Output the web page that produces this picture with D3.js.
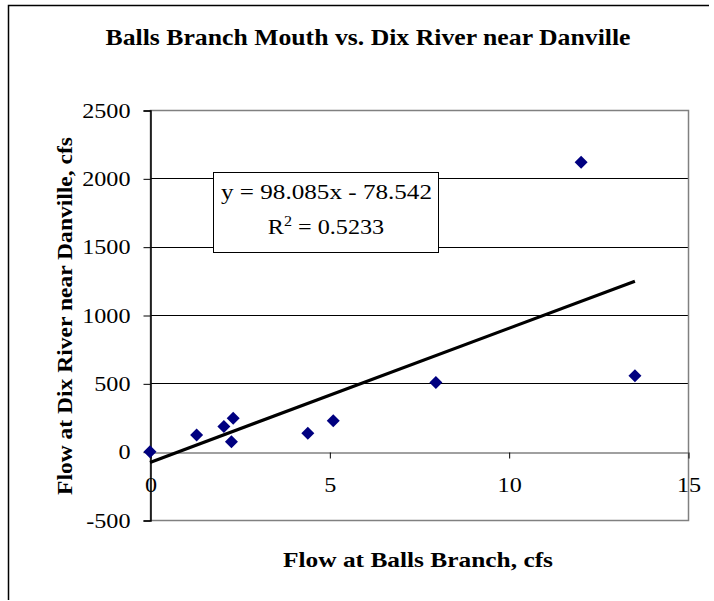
<!DOCTYPE html>
<html>
<head>
<meta charset="utf-8">
<script src="https://cdn.jsdelivr.net/npm/d3@7/dist/d3.min.js"></script>
<style>
  html, body { margin: 0; padding: 0; background: #fff; }
  svg { display: block; }
  text { font-family: "Liberation Serif", "Times New Roman", serif; fill: #000; }
</style>
</head>
<body>
<svg id="chart" width="714" height="601"></svg>
<script>
// Paired daily flows (cfs): Balls Branch mouth vs. Dix River near Danville
const ballsBranch = [0, 1.30, 2.06, 2.32, 2.27, 4.40, 5.11, 7.97, 13.52, 12.02];
const dixRiver    = [0, 122, 185, 244, 73, 134, 227, 507, 556, 2118];

// Linear trend reported for the data
const slope = 98.085;
const intercept = -78.542;
const rSquared = "0.5233";

const xTicks = [0, 5, 10, 15];
const yTicks = [-500, 0, 500, 1000, 1500, 2000, 2500];

const svg = d3.select("#chart");

const plot = { left: 150, right: 688, top: 110, bottom: 520 };
const x = d3.scaleLinear().domain([0, 15]).range([plot.left, plot.right]);
const y = d3.scaleLinear().domain([-500, 2500]).range([plot.bottom, plot.top]);

// Widen or narrow a text element's glyphs by a factor, keeping its anchor
function stretch(sel, factor) {
  sel.each(function () {
    const w = this.getComputedTextLength();
    d3.select(this).attr("textLength", w * factor).attr("lengthAdjust", "spacingAndGlyphs");
  });
}

// Outer chart frame (top and left edges)
svg.append("path")
  .attr("d", `M8.5,600 L8.5,5.5 L709,5.5`)
  .attr("fill", "none").attr("stroke", "#000").attr("stroke-width", 1.5);

// Title
svg.append("text")
  .attr("x", 368).attr("y", 45)
  .attr("text-anchor", "middle")
  .attr("font-size", 23).attr("font-weight", "bold")
  .attr("textLength", 525).attr("lengthAdjust", "spacingAndGlyphs")
  .text("Balls Branch Mouth vs. Dix River near Danville");

// Horizontal gridlines
svg.append("g").selectAll("line")
  .data(yTicks.filter(v => v > -500 && v < 2500 && v !== 0))
  .join("line")
  .attr("x1", plot.left).attr("x2", plot.right)
  .attr("y1", d => Math.round(y(d)) + 0.5).attr("y2", d => Math.round(y(d)) + 0.5)
  .attr("stroke", "#000").attr("stroke-width", 1);

// Plot area border
svg.append("rect")
  .attr("x", plot.left + 0.5).attr("y", plot.top + 0.5)
  .attr("width", plot.right - plot.left).attr("height", plot.bottom - plot.top)
  .attr("fill", "none").attr("stroke", "#808080").attr("stroke-width", 1.5);

// Y axis
const yAxis = svg.append("g")
  .attr("transform", `translate(${plot.left + 0.5},0.5)`)
  .call(d3.axisLeft(y).tickValues(yTicks).tickSize(7).tickPadding(13).tickFormat(d => String(d)));
yAxis.select(".domain").attr("stroke", "#000").attr("stroke-width", 1.5);
yAxis.selectAll(".tick line").attr("stroke", "#000");
yAxis.selectAll(".tick text")
  .attr("font-family", "Liberation Serif, Times New Roman, serif")
  .attr("font-size", 21).attr("fill", "#000")
  .call(stretch, 1.15);

// X axis placed at y = 0
const xAxis = svg.append("g")
  .attr("transform", `translate(0.5,${Math.round(y(0)) + 0.5})`)
  .call(d3.axisBottom(x).tickValues(xTicks).tickSize(6).tickPadding(18).tickSizeOuter(0));
xAxis.select(".domain").attr("stroke", "#808080").attr("stroke-width", 1.5);
xAxis.selectAll(".tick line").attr("stroke", "#000");
xAxis.selectAll(".tick text")
  .attr("font-family", "Liberation Serif, Times New Roman, serif")
  .attr("font-size", 22).attr("fill", "#000")
  .call(stretch, 1.1);

// Trend line over the observed range
const xMax = d3.max(ballsBranch);
svg.append("line")
  .attr("x1", x(0)).attr("y1", y(intercept))
  .attr("x2", x(xMax)).attr("y2", y(slope * xMax + intercept))
  .attr("stroke", "#000").attr("stroke-width", 3.2);

// Data points (diamonds)
const h = 6.5;
svg.append("g").selectAll("path")
  .data(ballsBranch.map((v, i) => [v, dixRiver[i]]))
  .join("path")
  .attr("transform", d => `translate(${x(d[0])},${y(d[1])})`)
  .attr("d", `M0,${-h} L${h},0 L0,${h} L${-h},0 Z`)
  .attr("fill", "#000080");

// Equation box
const box = svg.append("g");
box.append("rect")
  .attr("x", 213.5).attr("y", 172.5).attr("width", 225).attr("height", 80)
  .attr("fill", "#fff").attr("stroke", "#000").attr("stroke-width", 1);
box.append("text")
  .attr("x", 326.5).attr("y", 199).attr("text-anchor", "middle").attr("font-size", 21)
  .attr("textLength", 211).attr("lengthAdjust", "spacingAndGlyphs")
  .text(`y = ${slope}x - ${Math.abs(intercept)}`);
const r2 = box.append("text")
  .attr("x", 326).attr("y", 234).attr("text-anchor", "middle").attr("font-size", 21);
r2.append("tspan").text("R");
r2.append("tspan").attr("font-size", 14).attr("dy", -8).text("2");
r2.append("tspan").attr("dy", 8).text(` = ${rSquared}`);
r2.call(stretch, 1.15);

// Axis titles
svg.append("text")
  .attr("x", 418).attr("y", 567)
  .attr("text-anchor", "middle")
  .attr("font-size", 22).attr("font-weight", "bold")
  .attr("textLength", 270).attr("lengthAdjust", "spacingAndGlyphs")
  .text("Flow at Balls Branch, cfs");

svg.append("text")
  .attr("transform", "translate(72,316) rotate(-90)")
  .attr("text-anchor", "middle")
  .attr("font-size", 22).attr("font-weight", "bold")
  .attr("textLength", 358).attr("lengthAdjust", "spacingAndGlyphs")
  .text("Flow at Dix River near Danville, cfs");
</script>
</body>
</html>
